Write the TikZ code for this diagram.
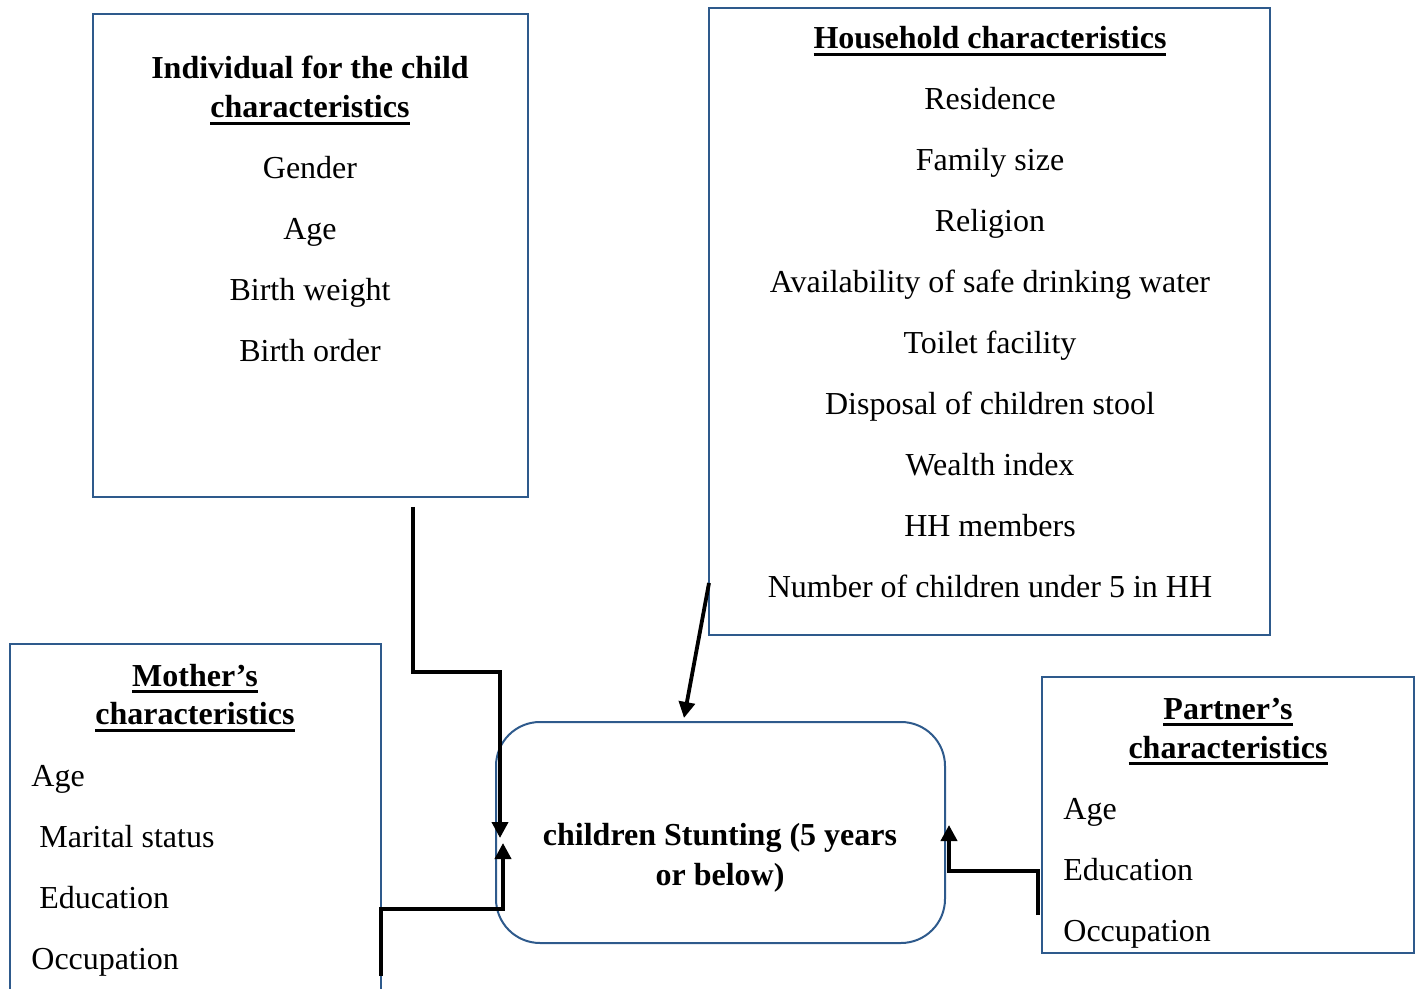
\documentclass[tikz,border=0pt]{standalone}
\usepackage{fontspec}
\setmainfont{Liberation Serif}
\usetikzlibrary{arrows.meta,calc}
\definecolor{boxblue}{HTML}{2E5A8C}
\newcommand{\ulthick}[1]{\setbox0\hbox{#1}\rlap{\vrule height -1.9pt depth 3.3pt width\wd0}\box0}
\begin{document}
\begin{tikzpicture}[x=0.5pt,y=-0.5pt,
 box/.style={draw=boxblue, line width=1pt, inner sep=0pt},
 txt/.style={font=\fontsize{16}{19}\selectfont, anchor=base, inner sep=0pt},
 txtl/.style={font=\fontsize{16}{19}\selectfont, anchor=base west, inner sep=0pt},
 ttl/.style={font=\fontsize{16}{19}\selectfont\bfseries, anchor=base, inner sep=0pt},
 conn/.style={line width=1.9pt, line join=miter, -{Triangle[length=8pt,width=8pt]}}]
\useasboundingbox (0,0) rectangle (1420,989);

% boxes
\node[box, minimum width=217.5pt, minimum height=241.5pt] (child) at (310.5,255.5) {};
\node[box, minimum width=280.5pt, minimum height=313.5pt] (household) at (989.5,321.5) {};
\node[box, minimum width=186pt, minimum height=138pt] (partner) at (1228,815) {};
\node[box, rounded corners=22pt, minimum width=224.5pt, minimum height=110.5pt] (stunt) at (720.5,832.5) {};
\coordinate (mbl) at (10,992);
\coordinate (mtl) at (10,644);
\coordinate (mtr) at (381,644);
\coordinate (mbr) at (381,992);
\draw[draw=boxblue, line width=1pt] (mbl) -- (mtl) -- (mtr) -- (mbr);

% child text
\node[ttl] (ct1) at (310,79) {Individual for the child};
\node[ttl] (ct2) at (310,118) {\ulthick{characteristics}};
\node[txt] (c1) at (310,179) {Gender};
\node[txt] (c2) at (310,240) {Age};
\node[txt] (c3) at (310,301) {Birth weight};
\node[txt] (c4) at (310,362) {Birth order};

% household text
\node[ttl] (ht) at (990,49) {\ulthick{Household characteristics}};
\node[txt] (h1) at (990,110) {Residence};
\node[txt] (h2) at (990,171) {Family size};
\node[txt] (h3) at (990,232) {Religion};
\node[txt] (h4) at (990,293) {Availability of safe drinking water};
\node[txt] (h5) at (990,354) {Toilet facility};
\node[txt] (h6) at (990,415) {Disposal of children stool};
\node[txt] (h7) at (990,476) {Wealth index};
\node[txt] (h8) at (990,537) {HH members};
\node[txt] (h9) at (990,598) {Number of children under 5 in HH};

% mother text
\node[ttl] (mt1) at (195,686) {\ulthick{Mother’s}};
\node[ttl] (mt2) at (195,725) {\ulthick{characteristics}};
\node[txtl] (m1) at (31,786) {Age};
\node[txtl] (m2) at (39,847) {Marital status};
\node[txtl] (m3) at (39,908) {Education};
\node[txtl] (m4) at (31,969) {Occupation};

% partner text
\node[ttl] (pt1) at (1228,719) {\ulthick{Partner’s}};
\node[ttl] (pt2) at (1228,758) {\ulthick{characteristics}};
\node[txtl] (p1) at (1063,819) {Age};
\node[txtl] (p2) at (1063,880) {Education};
\node[txtl] (p3) at (1063,941) {Occupation};

% centre text
\node[ttl] (s1) at (720,845) {children Stunting (5 years};
\node[ttl] (s2) at (720,885) {or below)};

% connectors
\coordinate (cs) at (413,507);
\coordinate (ce) at (500,838);
\draw[conn] (cs) -- ++(0,165) -| (ce);

\coordinate (ms) at (381,976);
\coordinate (me) at (503,843);
\draw[conn] (ms) -- ++(0,-67) -| (me);

\coordinate (hs) at (709,583);
\coordinate (he) at (684,718);
\draw[conn] (hs) -- (he);

\coordinate (ps) at (1038,915);
\coordinate (pe) at (949,825);
\draw[conn] (ps) -- ++(0,-44) -| (pe);
\end{tikzpicture}
\end{document}
